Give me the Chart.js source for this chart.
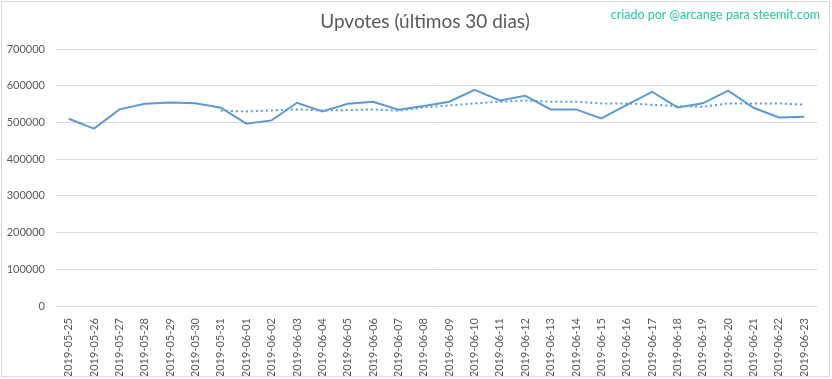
<!DOCTYPE html>
<html>
<head>
<meta charset="utf-8">
<script src="https://cdn.jsdelivr.net/npm/chart.js@4"></script>
<style>
  html, body { margin: 0; padding: 0; background: #fff; }
  #wrap { width: 832px; height: 379px; position: relative; }
</style>
</head>
<body>
<div id="wrap"><canvas id="chart"></canvas></div>
<script>
// Dates (last 30 days)
const days = [
  "2019-05-25", "2019-05-26", "2019-05-27", "2019-05-28", "2019-05-29", "2019-05-30",
  "2019-05-31", "2019-06-01", "2019-06-02", "2019-06-03", "2019-06-04", "2019-06-05",
  "2019-06-06", "2019-06-07", "2019-06-08", "2019-06-09", "2019-06-10", "2019-06-11",
  "2019-06-12", "2019-06-13", "2019-06-14", "2019-06-15", "2019-06-16", "2019-06-17",
  "2019-06-18", "2019-06-19", "2019-06-20", "2019-06-21", "2019-06-22", "2019-06-23"
];

// Upvotes per day
const upvotes = [
  510000, 483000, 535500, 551000, 554500, 552500,
  540000, 496500, 505500, 553500, 530000, 551000,
  556500, 534500, 544500, 556500, 589000, 560000,
  572500, 535500, 535500, 511000, 548000, 583500,
  541000, 552000, 586500, 540000, 513500, 515500
];

// Dotted trend line (moving average, starts on day 7)
const trend = [
  null, null, null, null, null, null,
  531800, 530000, 532700, 535400, 532700, 533600,
  535400, 531800, 540900, 546300, 551800, 556400,
  560000, 556400, 556400, 551800, 551800, 548200,
  544500, 542700, 551800, 551800, 551800, 548200
];

const yTicks = [0, 100000, 200000, 300000, 400000, 500000, 600000, 700000];

const lineColor = '#5B9BD5';
const textGray = '#595959';

// title, credit text and frame
const decorations = {
  id: 'decorations',
  beforeDraw(chart) {
    const c = chart.ctx;
    c.save();
    c.fillStyle = '#fff';
    c.fillRect(0, 0, chart.width, chart.height);
    c.restore();
  },
  afterDraw(chart) {
    const c = chart.ctx;
    c.save();
    c.textBaseline = 'middle';
    c.textAlign = 'center';
    c.fillStyle = textGray;
    c.font = '19px Lato';
    c.fillText('Upvotes (últimos 30 dias)', 425, 22);
    c.textAlign = 'right';
    c.fillStyle = '#22C9A0';
    c.font = '12.5px Lato';
    c.fillText('criado por @arcange para steemit.com', 820, 15);
    c.strokeStyle = '#d9d9d9';
    c.lineWidth = 1;
    c.strokeRect(1.5, 1.5, 828, 375);
    c.restore();
  }
};

new Chart(document.getElementById('chart'), {
  type: 'line',
  data: {
    labels: days,
    datasets: [
      {
        data: upvotes,
        borderColor: lineColor,
        borderWidth: 2,
        pointRadius: 0,
        tension: 0,
        fill: false
      },
      {
        data: trend,
        borderColor: lineColor,
        borderWidth: 2,
        borderDash: [2, 3],
        pointRadius: 0,
        tension: 0,
        fill: false
      }
    ]
  },
  options: {
    responsive: true,
    maintainAspectRatio: false,
    animation: false,
    layout: { padding: { top: 49, right: 15, left: 0, bottom: 0 } },
    plugins: {
      legend: { display: false },
      tooltip: { enabled: false }
    },
    scales: {
      x: {
        offset: true,
        grid: { display: false },
        border: { display: false },
        ticks: {
          color: textGray,
          font: { family: 'Lato', size: 11 },
          minRotation: 90,
          maxRotation: 90,
          autoSkip: false,
          padding: 4
        },
        afterFit: scale => { scale.height = 73; }
      },
      y: {
        min: 0,
        max: 700000,
        afterBuildTicks: scale => { scale.ticks = yTicks.map(v => ({ value: v })); },
        grid: { color: '#d9d9d9', drawTicks: false },
        border: { display: false },
        ticks: {
          color: textGray,
          font: { family: 'Lato', size: 11 },
          padding: 11,
          callback: v => String(v)
        },
        afterFit: scale => { scale.width = 56; }
      }
    }
  },
  plugins: [decorations]
});
</script>
</body>
</html>
